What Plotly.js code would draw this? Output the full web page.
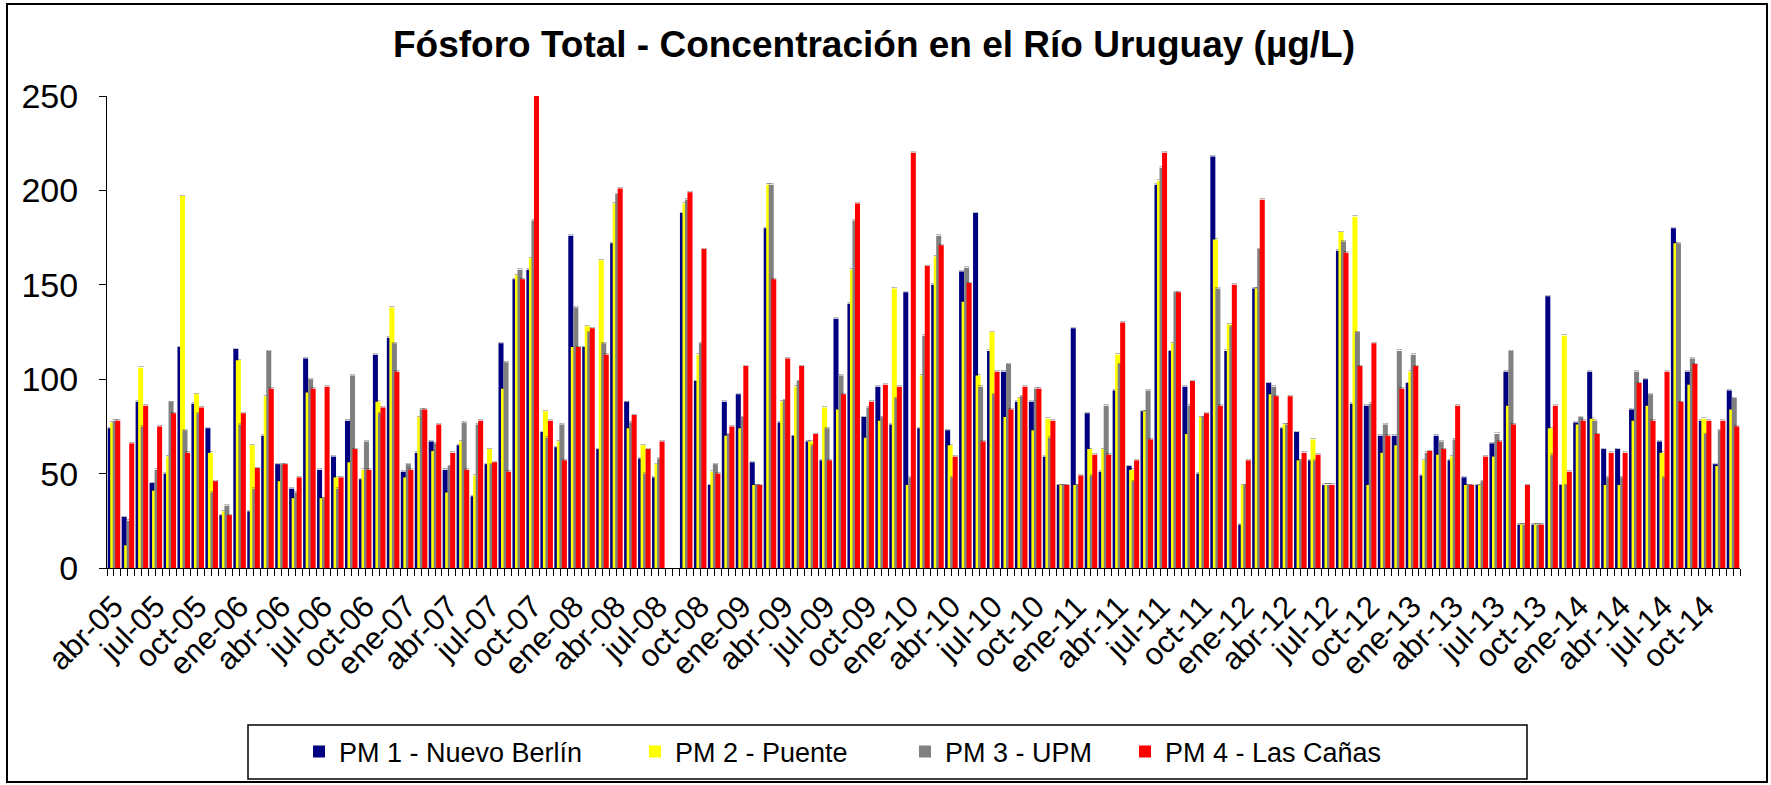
<!DOCTYPE html>
<html>
<head>
<meta charset="utf-8">
<script src="https://cdn.plot.ly/plotly-3.0.1.min.js"></script>
<style>html,body{margin:0;padding:0;background:#fff;}#chart{width:1771px;height:785px;}</style>
</head>
<body>
<div id="chart"></div>
<script>
const categories = [
 'abr-05','may-05','jun-05','jul-05','ago-05','sep-05','oct-05','nov-05','dic-05',
 'ene-06','feb-06','mar-06','abr-06','may-06','jun-06','jul-06','ago-06','sep-06','oct-06','nov-06','dic-06',
 'ene-07','feb-07','mar-07','abr-07','may-07','jun-07','jul-07','ago-07','sep-07','oct-07','nov-07','dic-07',
 'ene-08','feb-08','mar-08','abr-08','may-08','jun-08','jul-08','ago-08','sep-08','oct-08','nov-08','dic-08',
 'ene-09','feb-09','mar-09','abr-09','may-09','jun-09','jul-09','ago-09','sep-09','oct-09','nov-09','dic-09',
 'ene-10','feb-10','mar-10','abr-10','may-10','jun-10','jul-10','ago-10','sep-10','oct-10','nov-10','dic-10',
 'ene-11','feb-11','mar-11','abr-11','may-11','jun-11','jul-11','ago-11','sep-11','oct-11','nov-11','dic-11',
 'ene-12','feb-12','mar-12','abr-12','may-12','jun-12','jul-12','ago-12','sep-12','oct-12','nov-12','dic-12',
 'ene-13','feb-13','mar-13','abr-13','may-13','jun-13','jul-13','ago-13','sep-13','oct-13','nov-13','dic-13',
 'ene-14','feb-14','mar-14','abr-14','may-14','jun-14','jul-14','ago-14','sep-14','oct-14','nov-14','dic-14'
];

const tickLabels = ['abr-05','jul-05','oct-05','ene-06','abr-06','jul-06','oct-06','ene-07','abr-07','jul-07',
 'oct-07','ene-08','abr-08','jul-08','oct-08','ene-09','abr-09','jul-09','oct-09','ene-10','abr-10','jul-10',
 'oct-10','ene-11','abr-11','jul-11','oct-11','ene-12','abr-12','jul-12','oct-12','ene-13','abr-13','jul-13',
 'oct-13','ene-14','abr-14','jul-14','oct-14'];

const seriesNames = ['PM 1 - Nuevo Berlín','PM 2 - Puente','PM 3 - UPM','PM 4 - Las Cañas'];

const pm1 = [74,27,88,45,50,117,87,74,28,
 116,30,70,55,42,111,52,59,78,47,113,122,
 51,61,67,52,65,38,55,119,153,158,72,64,
 176,117,63,172,88,58,48,null,188,99,44,88,
 92,56,180,77,70,67,57,132,140,80,96,76,
 146,74,150,73,157,188,115,104,88,88,59,44,
 127,82,51,94,54,83,203,115,96,50,218,115,
 23,148,98,74,72,57,44,168,87,86,70,70,
 98,49,70,57,48,44,66,104,23,23,144,44,
 77,104,63,63,84,100,67,180,104,78,55,94];

const pm2 = [77,12,106,41,59,197,92,61,30,
 110,65,91,46,37,93,37,48,56,52,88,138,
 48,80,62,40,67,49,63,95,155,164,83,67,
 117,128,163,193,74,65,55,null,193,113,51,70,
 74,44,203,88,96,67,85,84,158,69,78,148,
 44,102,165,65,141,102,125,80,90,73,79,44,
 44,63,63,113,52,83,205,119,71,80,174,129,
 44,148,92,76,57,68,44,178,186,44,61,65,
 104,57,60,59,44,44,59,86,23,23,74,123,
 76,79,44,44,78,86,61,172,97,79,54,84];

const pm3 = [78,25,75,52,88,73,82,40,33,
 76,42,115,55,40,100,37,42,102,67,82,119,
 55,84,66,54,77,76,55,109,158,184,69,76,
 138,125,119,198,77,50,58,null,195,119,55,71,
 80,44,203,89,99,65,74,102,184,85,80,90,
 48,123,176,48,159,96,92,108,91,95,69,44,
 44,49,86,108,46,94,212,146,86,80,148,128,
 44,169,96,76,57,57,44,173,125,87,76,115,
 113,61,67,68,44,46,71,115,23,23,60,44,
 80,78,48,48,104,92,48,172,111,71,73,90];

const pm4 = [78,66,86,75,82,61,85,46,28,
 82,53,95,55,48,95,96,48,63,52,85,104,
 52,84,76,61,52,78,56,51,153,250,78,57,
 117,127,113,201,81,63,67,null,199,169,50,75,
 107,44,153,111,107,71,57,92,193,88,97,96,
 220,160,171,59,151,67,104,84,96,95,78,44,
 49,60,60,130,57,68,220,146,99,82,86,150,
 57,195,91,91,61,60,44,167,107,119,70,95,
 107,62,63,86,44,59,67,76,44,23,86,51,
 78,71,61,61,98,78,104,88,108,78,78,75];

const seriesValues = [pm1, pm2, pm3, pm4];
const seriesColors = ['#000080','#FFFF00','#808080','#FF0000'];

// geometry (layout only)
const W = 1771, H = 785;
const M = {l: 107, r: 31, t: 96, b: 217};
const PW = W - M.l - M.r, PH = H - M.t - M.b;
const px2x = p => (p - M.l) / PW;
const py2y = p => (H - M.b - p) / PH;

const xIdx = categories.map((c, i) => i);
const barWidth = 0.36, barStep = 0.18, barStart = -0.45;
const legendIds = ['legend','legend2','legend3','legend4'];
const legendTextX = [339, 675, 945, 1165];

const FONT = '"Liberation Sans", Arial, Helvetica, sans-serif';

const traces = seriesValues.map((vals, k) => ({
  type: 'bar',
  name: seriesNames[k],
  x: xIdx,
  y: vals,
  width: barWidth,
  offset: barStart + k * barStep,
  marker: {color: seriesColors[k], line: {width: 0}},
  legend: legendIds[k],
  hovertemplate: '%{text}: %{y}<extra>' + seriesNames[k] + '</extra>',
  text: categories
}));

const layout = {
  width: W, height: H,
  margin: M,
  paper_bgcolor: '#ffffff',
  plot_bgcolor: '#ffffff',
  barmode: 'overlay',
  font: {family: FONT, color: '#000', size: 27},
  title: {
    text: 'Fósforo Total - Concentración en el Río Uruguay (µg/L)',
    font: {family: FONT, size: 37, weight: 'bold', color: '#000'},
    xref: 'container', x: 874 / W, xanchor: 'center',
    yref: 'container', y: 1 - 44 / H, yanchor: 'middle'
  },
  xaxis: {
    type: 'linear',
    range: [-0.5, categories.length - 0.5],
    tickmode: 'array',
    tickvals: tickLabels.map(l => categories.indexOf(l)),
    ticktext: tickLabels,
    tickangle: -45,
    ticks: 'outside', ticklen: 7, tickwidth: 1, tickcolor: '#000',
    minor: {tickmode: 'linear', tick0: -0.5, dtick: 0.5, ticks: 'outside', ticklen: 7, tickwidth: 1, tickcolor: '#000', showgrid: false},
    showline: true, linecolor: '#000', linewidth: 1,
    showgrid: false, zeroline: false,
    tickfont: {family: FONT, size: 31, color: '#000'},
    fixedrange: true
  },
  yaxis: {
    range: [0, 250],
    tickmode: 'array',
    tickvals: [0, 50, 100, 150, 200, 250],
    ticks: 'outside', ticklen: 7, tickwidth: 1, tickcolor: '#000',
    showline: true, linecolor: '#000', linewidth: 1,
    showgrid: false, zeroline: false,
    tickfont: {family: FONT, size: 34, color: '#000'},
    ticklabelstandoff: 14,
    fixedrange: true
  },
  yaxis2: {
    overlaying: 'y', anchor: 'x', side: 'left',
    range: [0, 250],
    tickmode: 'array', tickvals: [50, 100, 150, 200],
    showticklabels: false, ticks: '',
    showgrid: true, gridcolor: '#000', gridwidth: 1,
    showline: false, zeroline: false, fixedrange: true
  },
  shapes: [
    {type: 'rect', xref: 'paper', yref: 'paper',
     x0: px2x(7), x1: px2x(1767), y0: py2y(782), y1: py2y(4),
     line: {color: '#000', width: 2}, fillcolor: 'rgba(0,0,0,0)', layer: 'below'},
    {type: 'rect', xref: 'paper', yref: 'paper',
     x0: px2x(248), x1: px2x(1527), y0: py2y(779), y1: py2y(725),
     line: {color: '#000', width: 1.5}, fillcolor: 'rgba(0,0,0,0)', layer: 'below'}
  ],
  showlegend: true
};

legendIds.forEach((id, k) => {
  layout[id] = {
    orientation: 'h',
    xref: 'container', x: (legendTextX[k] - 40) / W, xanchor: 'left',
    yref: 'container', y: 1 - 752 / H, yanchor: 'middle',
    font: {family: FONT, size: 27, color: '#000'},
    bgcolor: 'rgba(0,0,0,0)', borderwidth: 0
  };
});

Plotly.newPlot('chart', traces, layout, {displayModeBar: false, staticPlot: true});
</script>
</body>
</html>
